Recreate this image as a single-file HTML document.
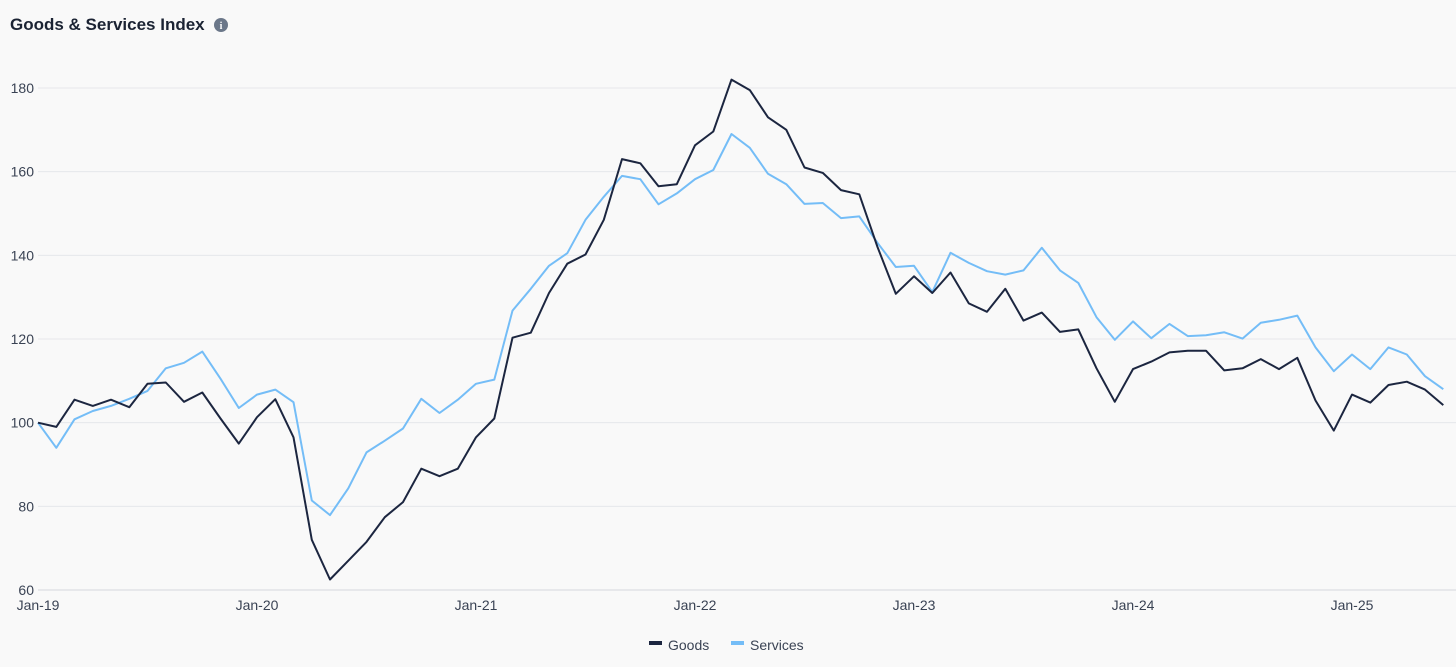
<!DOCTYPE html>
<html><head><meta charset="utf-8">
<style>
html,body{margin:0;padding:0;background:#f9f9f9;width:1456px;height:667px;overflow:hidden;font-family:"Liberation Sans",sans-serif;}
</style></head>
<body>
<svg id="c" width="1456" height="667" xmlns="http://www.w3.org/2000/svg" style="position:absolute;left:0;top:0">
<text x="10" y="30" font-size="17" font-weight="bold" fill="#1b2333" font-family="Liberation Sans">Goods &amp; Services Index</text>
<circle cx="221" cy="25" r="7" fill="#6b7789"/>
<text x="221" y="29" font-size="10" font-weight="bold" fill="#fff" text-anchor="middle" font-family="Liberation Serif">i</text>
<g id="grid"></g>
<g id="lab" font-size="14" fill="#3a4354" font-family="Liberation Sans"></g>
<polyline id="sv" fill="none" stroke="#74bdf7" stroke-width="2" stroke-linejoin="round"/>
<polyline id="gd" fill="none" stroke="#1c2640" stroke-width="2" stroke-linejoin="round"/>
<rect x="649" y="641" width="13" height="4" fill="#1c2640"/>
<text x="668" y="650" font-size="14" fill="#3a4354">Goods</text>
<rect x="731" y="641" width="13" height="4" fill="#74bdf7"/>
<text x="750" y="650" font-size="14" fill="#3a4354">Services</text>
</svg>
<script>
var G=[100,99,105.5,104,105.5,103.7,109.3,109.6,105,107.2,101,95,101.3,105.6,96.5,72,62.5,67,71.5,77.4,81,89,87.2,89,96.5,101,120.3,121.5,131,138,140.2,148.5,163,162,156.5,157,166.3,169.6,182,179.5,173,170,161,159.7,155.6,154.6,142,130.8,135,131,135.9,128.5,126.5,132,124.4,126.3,121.7,122.3,113,105,112.8,114.6,116.8,117.2,117.2,112.5,113,115.2,112.8,115.5,105.3,98.1,106.7,104.8,109,109.8,107.9,104.2];
var S=[100,94,100.8,102.8,104,105.7,107.6,113,114.3,117,110.5,103.5,106.7,107.9,104.9,81.4,77.9,84.3,92.9,95.7,98.6,105.7,102.3,105.5,109.3,110.3,126.8,132,137.5,140.5,148.5,154,159,158.2,152.2,154.8,158.2,160.4,169,165.7,159.5,157,152.3,152.5,148.9,149.3,143,137.2,137.5,131.2,140.6,138.2,136.2,135.4,136.4,141.8,136.4,133.4,125.2,119.8,124.2,120.2,123.6,120.7,120.9,121.6,120.1,123.9,124.6,125.6,118,112.3,116.3,112.8,118,116.3,111.1,108];
function X(i){return 38+i*18.25;}
function Y(v){return 590-(v-60)*502/120;}
function pts(a){return a.map(function(v,i){return X(i).toFixed(1)+","+Y(v).toFixed(1);}).join(" ");}
document.getElementById("gd").setAttribute("points",pts(G));
document.getElementById("sv").setAttribute("points",pts(S));
var ns="http://www.w3.org/2000/svg",g=document.getElementById("grid"),l=document.getElementById("lab");
for(var v=60;v<=180;v+=20){var y=Y(v);var ln=document.createElementNS(ns,"line");ln.setAttribute("x1",38);ln.setAttribute("x2",1456);ln.setAttribute("y1",y);ln.setAttribute("y2",y);ln.setAttribute("stroke",v==60?"#d5d8dd":"#e6e8eb");ln.setAttribute("stroke-width",1);g.appendChild(ln);
var t=document.createElementNS(ns,"text");t.setAttribute("x",34);t.setAttribute("y",y+5);t.setAttribute("text-anchor","end");t.textContent=v;l.appendChild(t);}
var yrs=["Jan-19","Jan-20","Jan-21","Jan-22","Jan-23","Jan-24","Jan-25"];
yrs.forEach(function(s,k){var t=document.createElementNS(ns,"text");t.setAttribute("x",X(k*12));t.setAttribute("y",610);t.setAttribute("text-anchor","middle");t.textContent=s;l.appendChild(t);});
</script>
</body></html>
